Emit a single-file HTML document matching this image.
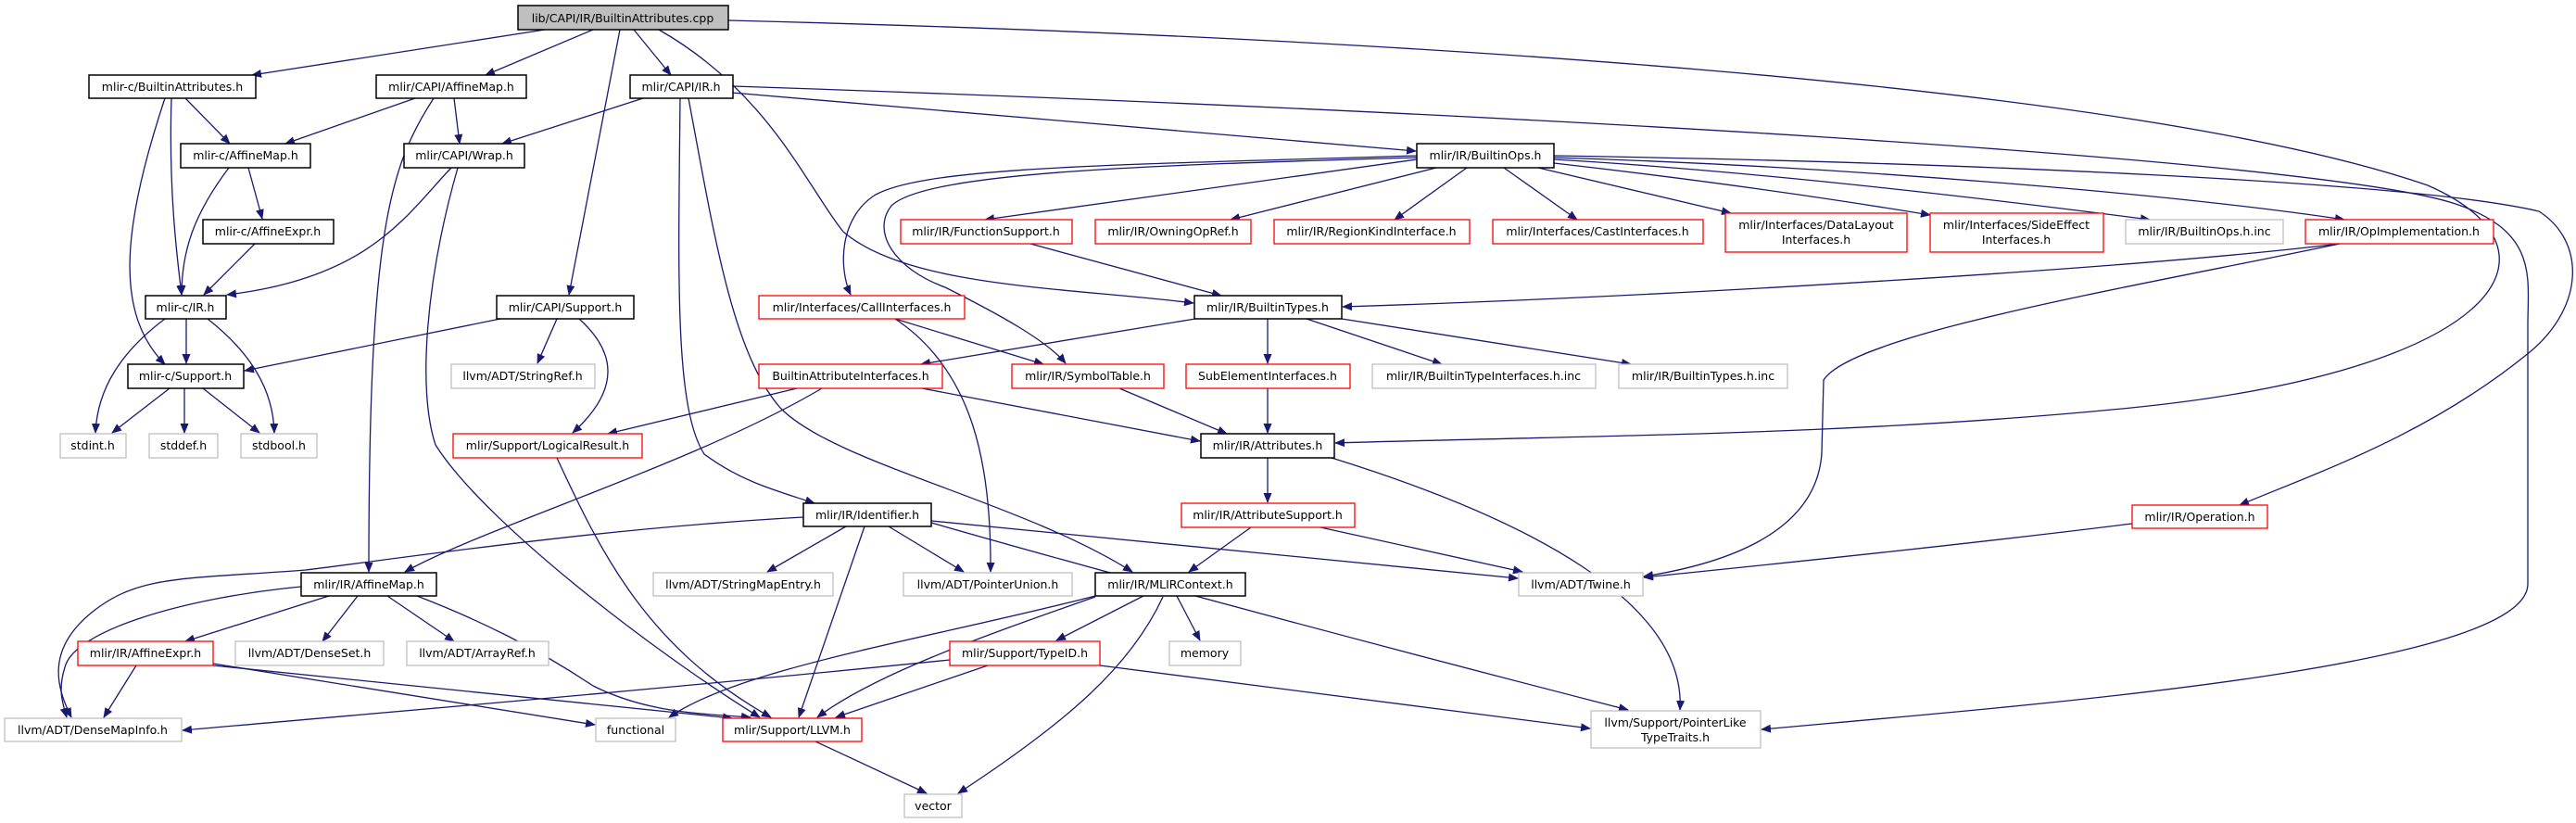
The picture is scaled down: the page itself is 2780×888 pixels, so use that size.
<!DOCTYPE html>
<html><head><meta charset="utf-8"><style>
html,body{margin:0;padding:0;background:#fff;}
svg{display:block;}
text{font-family:"DejaVu Sans","Liberation Sans",sans-serif;font-size:12.5px;fill:#000;text-anchor:middle;}
.e{fill:none;stroke:#191970;stroke-width:1.3;marker-end:url(#a);}
.b{fill:#fff;stroke:#000;stroke-width:1.5;}
.r{fill:#fff;stroke:#ff0000;stroke-width:1.3;}
.g{fill:#fff;stroke:#bfbfbf;stroke-width:1.3;}
</style></head><body>
<svg width="2780" height="888" viewBox="0 0 2780 888" xmlns="http://www.w3.org/2000/svg">
<defs><marker id="a" markerWidth="11" markerHeight="9" refX="10" refY="4.5" orient="auto" markerUnits="userSpaceOnUse"><path d="M0,0 L11,4.5 L0,9z" fill="#191970"/></marker></defs>
<g>
<!-- edges from cpp -->
<path class="e" d="M588,32 L272,81"/>
<path class="e" d="M640,32 L524,81"/>
<path class="e" d="M684,32 L724,81"/>
<path class="e" d="M669,32 L614,318"/>
<path class="e" d="M711,32 C830,100 870,200 910,250 C980,310 1150,310 1288,327"/>
<path class="e" d="M786,22 C1500,40 2300,90 2620,200 C2780,270 2700,400 2300,440 C2000,470 1700,470 1441,478"/>
<!-- mlir-c/BuiltinAttributes.h -->
<path class="e" d="M200,106 L248,155"/>
<path class="e" d="M185,106 C182,200 190,270 196,318"/>
<path class="e" d="M178,106 C130,250 125,340 178,393"/>
<!-- CAPI/AffineMap.h -->
<path class="e" d="M448,106 L308,155"/>
<path class="e" d="M490,106 L496,155"/>
<path class="e" d="M468,106 C420,180 398,250 398,617"/>
<!-- CAPI/IR.h -->
<path class="e" d="M694,106 L542,155"/>
<path class="e" d="M790,100 L1528,163"/>
<path class="e" d="M734,106 C732,300 728,440 760,490 C800,520 840,530 879,543"/>
<path class="e" d="M743,106 C770,250 790,380 842,440 C900,500 1100,540 1222,617"/>
<path class="e" d="M791,93 C1600,120 2500,170 2650,220 C2740,250 2728,300 2728,350 L2728,630 C2728,720 2200,760 1901,787"/>
<!-- BuiltinOps.h -->
<path class="e" d="M1529,172 L1063,237"/>
<path class="e" d="M1550,181 L1328,237"/>
<path class="e" d="M1583,181 L1505,237"/>
<path class="e" d="M1623,181 L1702,237"/>
<path class="e" d="M1660,181 L1868,230"/>
<path class="e" d="M1677,176 C1800,190 1950,210 2083,232"/>
<path class="e" d="M1677,172 C1900,185 2150,215 2320,237"/>
<path class="e" d="M1677,170 C2000,180 2350,210 2530,237"/>
<path class="e" d="M1677,168 C2100,175 2600,195 2740,228 C2790,260 2790,330 2730,380 C2620,470 2500,510 2417,545"/>
<path class="e" d="M1529,168 C1200,178 1000,180 945,210 C905,235 905,290 918,318"/>
<path class="e" d="M1529,170 C1250,178 1000,185 962,222 C940,250 965,290 1020,310 C1080,340 1130,368 1150,392"/>
<!-- FunctionSupport -->
<path class="e" d="M1112,263 L1318,319"/>
<!-- CallInterfaces -->
<path class="e" d="M966,344 L1126,393"/>
<path class="e" d="M966,344 C1050,400 1070,500 1069,617"/>
<!-- BuiltinTypes -->
<path class="e" d="M1290,344 L994,393"/>
<path class="e" d="M1368,344 L1368,392"/>
<path class="e" d="M1410,344 L1556,393"/>
<path class="e" d="M1448,344 L1760,393"/>
<!-- BuiltinAttributeInterfaces -->
<path class="e" d="M860,419 L656,468"/>
<path class="e" d="M995,419 L1295,476"/>
<path class="e" d="M887,419 C750,500 520,570 437,617"/>
<!-- SymbolTable, SubElement -->
<path class="e" d="M1208,419 L1324,468"/>
<path class="e" d="M1368,419 L1368,467"/>
<!-- Attributes.h -->
<path class="e" d="M1368,494 L1368,542"/>
<path class="e" d="M1437,494 C1650,560 1820,650 1813,766"/>
<!-- AttributeSupport -->
<path class="e" d="M1350,569 L1283,617"/>
<path class="e" d="M1425,569 L1643,617"/>
<!-- OpImplementation -->
<path class="e" d="M2525,263 C2300,290 1800,320 1449,331"/>
<path class="e" d="M2525,263 C2300,310 2000,360 1968,410 L1966,489 C1960,580 1850,610 1774,622"/>
<!-- Operation.h -->
<path class="e" d="M2301,565 C2100,590 1900,610 1774,623"/>
<!-- Identifier -->
<path class="e" d="M913,568 L828,617"/>
<path class="e" d="M959,568 L1040,617"/>
<path class="e" d="M933,568 L862,774"/>
<path class="e" d="M1005,562 L1638,624"/>
<path class="e" d="M1005,564 C1200,620 1500,700 1757,766"/>
<path class="e" d="M867,558 C650,570 450,600 330,615 C200,625 150,620 100,660 C50,700 60,740 77,774"/>
<!-- mlir/IR/AffineMap.h -->
<path class="e" d="M355,643 L200,692"/>
<path class="e" d="M386,643 L348,692"/>
<path class="e" d="M418,643 L490,692"/>
<path class="e" d="M325,633 C200,645 80,680 70,720 C62,745 68,760 72,774"/>
<path class="e" d="M450,643 C520,670 580,700 640,740 C700,770 760,770 810,774"/>
<!-- AffineExpr -->
<path class="e" d="M147,718 L112,774"/>
<path class="e" d="M230,716 L642,782"/>
<path class="e" d="M230,718 C450,740 650,760 790,775"/>
<!-- LogicalResult -->
<path class="e" d="M601,494 C650,600 700,700 832,774"/>
<!-- Wrap.h -->
<path class="e" d="M487,181 C440,230 400,300 245,318"/>
<path class="e" d="M494,181 C460,300 450,420 470,480 C520,560 700,700 820,774"/>
<!-- mlir-c/AffineMap.h -->
<path class="e" d="M247,181 C210,230 196,270 196,318"/>
<path class="e" d="M268,181 L283,236"/>
<path class="e" d="M275,263 L220,318"/>
<!-- mlir-c/IR.h -->
<path class="e" d="M201,344 L201,392"/>
<path class="e" d="M178,344 C130,380 105,420 103,467"/>
<path class="e" d="M224,344 C270,380 295,420 296,467"/>
<!-- CAPI/Support.h -->
<path class="e" d="M540,344 L264,400"/>
<path class="e" d="M601,344 L580,392"/>
<path class="e" d="M625,344 C665,380 670,420 618,467"/>
<!-- mlir-c/Support.h -->
<path class="e" d="M183,419 L121,467"/>
<path class="e" d="M199,419 L199,467"/>
<path class="e" d="M219,419 L280,467"/>
<!-- MLIRContext -->
<path class="e" d="M1234,643 L1140,691"/>
<path class="e" d="M1270,643 L1295,691"/>
<path class="e" d="M1255,644 C1220,720 1150,780 1034,856"/>
<path class="e" d="M1182,644 C1050,690 940,730 882,774"/>
<path class="e" d="M1182,643 C1000,690 800,720 722,774"/>
<!-- TypeID -->
<path class="e" d="M1066,718 L902,774"/>
<path class="e" d="M1025,712 C700,745 400,770 197,788"/>
<path class="e" d="M1187,718 L1716,786"/>
<!-- LLVM.h -->
<path class="e" d="M880,800 L1000,856"/>
</g>
<g>
<rect x="559" y="6" width="227" height="26" fill="#bfbfbf" stroke="#000" stroke-width="1.5"/><text x="672" y="24">lib/CAPI/IR/BuiltinAttributes.cpp</text>
<rect class="b" x="96" y="81" width="180" height="25"/><text x="186" y="98">mlir-c/BuiltinAttributes.h</text>
<rect class="b" x="406" y="81" width="162" height="25"/><text x="487" y="98">mlir/CAPI/AffineMap.h</text>
<rect class="b" x="680" y="81" width="111" height="25"/><text x="735" y="98">mlir/CAPI/IR.h</text>
<rect class="b" x="195" y="155" width="140" height="26"/><text x="265" y="172">mlir-c/AffineMap.h</text>
<rect class="b" x="436" y="155" width="130" height="26"/><text x="501" y="172">mlir/CAPI/Wrap.h</text>
<rect class="b" x="1529" y="155" width="148" height="26"/><text x="1603" y="172">mlir/IR/BuiltinOps.h</text>
<rect class="b" x="219" y="237" width="141" height="26"/><text x="289" y="254">mlir-c/AffineExpr.h</text>
<rect class="r" x="972" y="237" width="185" height="26"/><text x="1064" y="254">mlir/IR/FunctionSupport.h</text>
<rect class="r" x="1182" y="237" width="168" height="26"/><text x="1266" y="254">mlir/IR/OwningOpRef.h</text>
<rect class="r" x="1375" y="237" width="211" height="26"/><text x="1480" y="254">mlir/IR/RegionKindInterface.h</text>
<rect class="r" x="1611" y="237" width="227" height="26"/><text x="1724" y="254">mlir/Interfaces/CastInterfaces.h</text>
<rect class="r" x="1862" y="230" width="196" height="42"/><text x="1960" y="247">mlir/Interfaces/DataLayout</text><text x="1960" y="263">Interfaces.h</text>
<rect class="r" x="2083" y="230" width="187" height="42"/><text x="2176" y="247">mlir/Interfaces/SideEffect</text><text x="2176" y="263">Interfaces.h</text>
<rect class="g" x="2294" y="237" width="170" height="26"/><text x="2379" y="254">mlir/IR/BuiltinOps.h.inc</text>
<rect class="r" x="2488" y="237" width="203" height="26"/><text x="2589" y="254">mlir/IR/OpImplementation.h</text>
<rect class="b" x="157" y="319" width="87" height="25"/><text x="200" y="336">mlir-c/IR.h</text>
<rect class="b" x="536" y="319" width="148" height="25"/><text x="610" y="336">mlir/CAPI/Support.h</text>
<rect class="r" x="819" y="319" width="222" height="25"/><text x="930" y="336">mlir/Interfaces/CallInterfaces.h</text>
<rect class="b" x="1289" y="319" width="159" height="25"/><text x="1368" y="336">mlir/IR/BuiltinTypes.h</text>
<rect class="b" x="138" y="393" width="125" height="26"/><text x="200" y="410">mlir-c/Support.h</text>
<rect class="g" x="487" y="393" width="155" height="26"/><text x="564" y="410">llvm/ADT/StringRef.h</text>
<rect class="r" x="819" y="393" width="198" height="26"/><text x="918" y="410">BuiltinAttributeInterfaces.h</text>
<rect class="r" x="1092" y="393" width="164" height="26"/><text x="1174" y="410">mlir/IR/SymbolTable.h</text>
<rect class="r" x="1280" y="393" width="177" height="26"/><text x="1368" y="410">SubElementInterfaces.h</text>
<rect class="g" x="1481" y="393" width="241" height="26"/><text x="1601" y="410">mlir/IR/BuiltinTypeInterfaces.h.inc</text>
<rect class="g" x="1747" y="393" width="182" height="26"/><text x="1838" y="410">mlir/IR/BuiltinTypes.h.inc</text>
<rect class="g" x="65" y="468" width="71" height="26"/><text x="100" y="485">stdint.h</text>
<rect class="g" x="161" y="468" width="74" height="26"/><text x="198" y="485">stddef.h</text>
<rect class="g" x="260" y="468" width="82" height="26"/><text x="301" y="485">stdbool.h</text>
<rect class="r" x="489" y="468" width="204" height="26"/><text x="591" y="485">mlir/Support/LogicalResult.h</text>
<rect class="b" x="1296" y="468" width="144" height="26"/><text x="1368" y="485">mlir/IR/Attributes.h</text>
<rect class="b" x="867" y="543" width="138" height="25"/><text x="936" y="560">mlir/IR/Identifier.h</text>
<rect class="r" x="1275" y="543" width="187" height="26"/><text x="1368" y="560">mlir/IR/AttributeSupport.h</text>
<rect class="r" x="2301" y="545" width="146" height="25"/><text x="2374" y="562">mlir/IR/Operation.h</text>
<rect class="b" x="325" y="618" width="146" height="25"/><text x="398" y="635">mlir/IR/AffineMap.h</text>
<rect class="g" x="705" y="618" width="194" height="25"/><text x="802" y="635">llvm/ADT/StringMapEntry.h</text>
<rect class="g" x="975" y="618" width="182" height="25"/><text x="1066" y="635">llvm/ADT/PointerUnion.h</text>
<rect class="b" x="1182" y="618" width="162" height="25"/><text x="1263" y="635">mlir/IR/MLIRContext.h</text>
<rect class="g" x="1639" y="618" width="134" height="25"/><text x="1706" y="635">llvm/ADT/Twine.h</text>
<rect class="r" x="84" y="692" width="146" height="26"/><text x="157" y="709">mlir/IR/AffineExpr.h</text>
<rect class="g" x="254" y="692" width="160" height="26"/><text x="334" y="709">llvm/ADT/DenseSet.h</text>
<rect class="g" x="439" y="692" width="153" height="26"/><text x="515" y="709">llvm/ADT/ArrayRef.h</text>
<rect class="r" x="1025" y="692" width="162" height="26"/><text x="1106" y="709">mlir/Support/TypeID.h</text>
<rect class="g" x="1262" y="692" width="77" height="26"/><text x="1300" y="709">memory</text>
<rect class="g" x="5" y="775" width="191" height="25"/><text x="100" y="792">llvm/ADT/DenseMapInfo.h</text>
<rect class="g" x="643" y="775" width="86" height="25"/><text x="686" y="792">functional</text>
<rect class="r" x="780" y="775" width="150" height="25"/><text x="855" y="792">mlir/Support/LLVM.h</text>
<rect class="g" x="1717" y="767" width="183" height="40"/><text x="1808" y="784">llvm/Support/PointerLike</text><text x="1808" y="800">TypeTraits.h</text>
<rect class="g" x="976" y="857" width="62" height="25"/><text x="1007" y="874">vector</text>
</g>
</svg>
</body></html>
